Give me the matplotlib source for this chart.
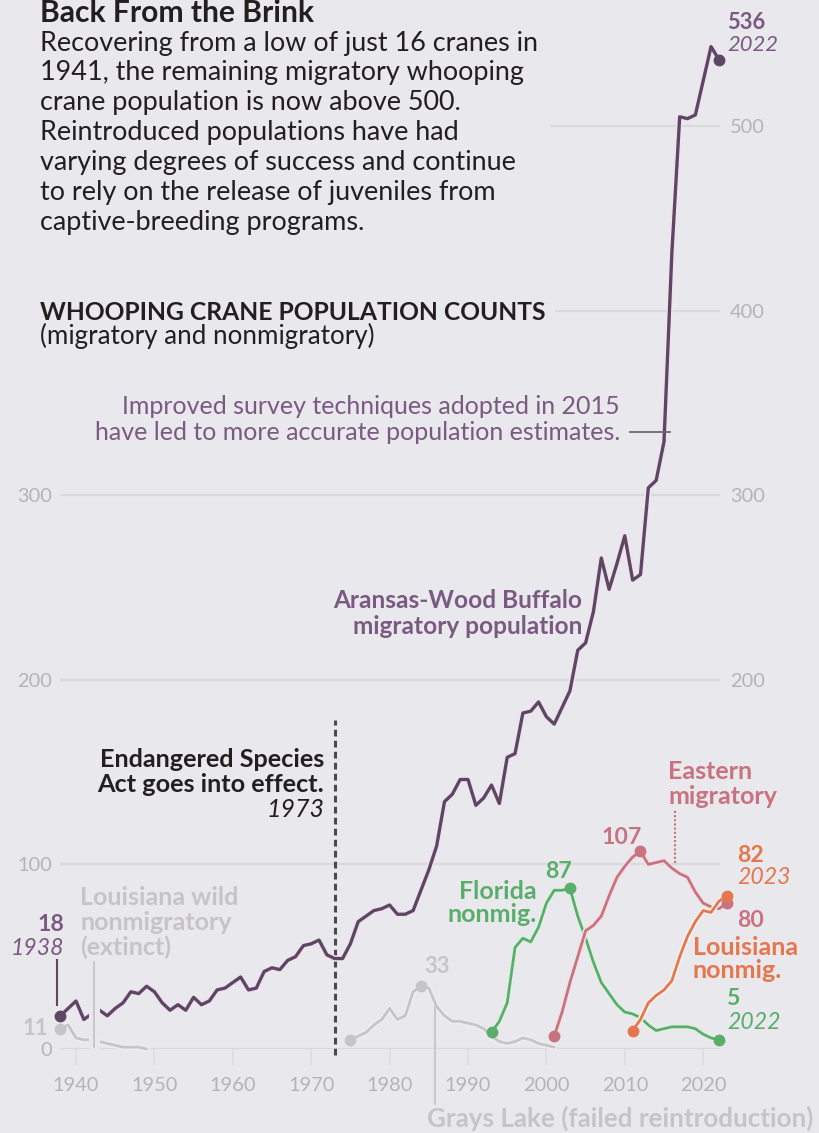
import numpy as np
import matplotlib.pyplot as plt
import matplotlib.patheffects as pe
from matplotlib.patches import Rectangle

plt.rcParams['font.family'] = ['Lato', 'DejaVu Sans']

# --- data ---
# Aransas-Wood Buffalo migratory flock (no count in 2020)
aransas_years = list(range(1938, 2020)) + [2021, 2022]
aransas_counts = [18, 22, 26, 16, 19, 21, 18, 22, 25, 31,
                  30, 34, 31, 25, 21, 24, 21, 28, 24, 26,
                  32, 33, 36, 39, 32, 33, 42, 44, 43, 48,
                  50, 56, 57, 59, 51, 49, 49, 57, 69, 72,
                  75, 76, 78, 73, 73, 75, 86, 97, 110, 134,
                  138, 146, 146, 132, 136, 143, 133, 158, 160, 182,
                  183, 188, 180, 176, 185, 194, 216, 220, 237, 266,
                  249, 263, 278, 254, 257, 304, 308, 329, 431, 505,
                  504, 506, 543, 536]

# Louisiana wild nonmigratory (extinct)
la_wild_years = list(range(1938, 1950))
la_wild_counts = [11, 13, 6, 5, 5, 4, 3, 2, 1, 1, 1, 0]

# Grays Lake (failed reintroduction)
grays_years = list(range(1975, 2002))
grays_counts = [5, 7, 9, 13, 16, 22, 16, 18, 31, 34, 33, 23, 18, 15, 15,
                14, 13, 11, 7, 4, 3, 4, 6, 5, 3, 2, 1]

# Florida nonmigratory
florida_years = list(range(1993, 2023))
florida_counts = [9, 15, 25, 55, 60, 58, 66, 79, 86, 86, 87, 72, 60, 47, 36,
                  30, 24, 20, 19, 17, 13, 10, 11, 12, 12, 12, 11, 8, 6, 5]

# Eastern migratory
eastern_years = list(range(2001, 2024))
eastern_counts = [7, 20, 36, 50, 64, 67, 72, 83, 93, 99, 104, 107, 100, 101,
                  102, 98, 95, 93, 85, 79, 77, 76, 79]

# Louisiana nonmigratory (reintroduced)
la_years = list(range(2011, 2024))
la_counts = [10, 16, 25, 29, 32, 37, 50, 61, 69, 75, 74, 80, 83]

grid_values = [0, 100, 200, 300, 400, 500]
left_ticks = [0, 100, 200, 300]
right_ticks = [200, 300, 400, 500]
x_ticks = [1940, 1950, 1960, 1970, 1980, 1990, 2000, 2010, 2020]

body_lines = ['Recovering from a low of just 16 cranes in',
              '1941, the remaining migratory whooping',
              'crane population is now above 500.',
              'Reintroduced populations have had',
              'varying degrees of success and continue',
              'to rely on the release of juveniles from',
              'captive-breeding programs.']

# --- colours ---
BG = '#e9e8ec'
PURPLE = '#5d4763'
PURPLE_TXT = '#7a5a82'
GREEN = '#5aae6c'
PINK = '#c8737f'
ORANGE = '#e5764d'
LGRAY = '#c6c4c9'
TICKGRAY = '#b5b3b9'
GRIDC = '#d9d8dd'
INK = '#231f20'


def px(p):
    return p * 0.72


W, H = 819, 1133
fig = plt.figure(figsize=(W / 100, H / 100), dpi=100, facecolor=BG)

# axes placed so that 1940 sits at x=76px and 0 at y=1049px
ppy = 7.84     # pixels per year
ppv = 1.846    # pixels per crane
left_px, right_px, top_px, base_px = 60, 720, 15, 1049
ax = fig.add_axes([left_px / W, 1 - base_px / H, (right_px - left_px) / W, (base_px - top_px) / H])
ax.set_facecolor(BG)
ax.set_xlim(1940 + (left_px - 76) / ppy, 1940 + (right_px - 76) / ppy)
ax.set_ylim(0, (base_px - top_px) / ppv)
for s in ax.spines.values():
    s.set_visible(False)

x0, x1 = ax.get_xlim()
ax.hlines(grid_values, x0, x1, color=GRIDC, lw=1.6, zorder=0)

ax.set_yticks(left_ticks)
ax.set_yticklabels([str(v) for v in left_ticks])
ax.tick_params(axis='y', length=0, pad=px(8), labelsize=px(20), labelcolor=TICKGRAY)
ax.set_xticks(x_ticks)
ax.set_xticklabels([str(v) for v in x_ticks])
ax.tick_params(axis='x', length=px(16), width=1.2, color='#dddce1', pad=px(12),
               labelsize=px(20), labelcolor=TICKGRAY)

axr = ax.twinx()
axr.set_ylim(ax.get_ylim())
axr.set_yticks(right_ticks)
axr.set_yticklabels([str(v) for v in right_ticks])
axr.tick_params(axis='y', length=0, pad=px(10), labelsize=px(20), labelcolor=TICKGRAY)
for s in axr.spines.values():
    s.set_visible(False)


def series(xs, ys, color, halo, lw=2.0, z=3):
    ax.plot(xs, ys, color=color, lw=lw, solid_joinstyle='round', solid_capstyle='round',
            clip_on=False, zorder=z,
            path_effects=[pe.Stroke(linewidth=lw + 2.2, foreground=halo), pe.Normal()])


def dot(x, y, color, z=4, ms=7.5):
    ax.plot([x], [y], 'o', color=color, ms=ms, mec=color, clip_on=False, zorder=z)


# Endangered Species Act line
ax.plot([1973, 1973], [-3, 178], color='#4a4a4e', lw=2.2, ls=(0, (2.2, 1.4)),
        clip_on=False, zorder=2)

series(la_wild_years, la_wild_counts, LGRAY, '#eeeef1', lw=2.0, z=2)
series(grays_years, grays_counts, LGRAY, '#eeeef1', lw=2.0, z=2)
series(florida_years, florida_counts, GREEN, '#e3efe5', lw=2.0)
series(eastern_years, eastern_counts, PINK, '#f1e2e6', lw=2.0)
series(la_years, la_counts, ORANGE, '#f6f2f2', lw=2.0, z=3.5)
series(aransas_years, aransas_counts, PURPLE, '#efe3f1', lw=2.4, z=3)

# end / start markers
dot(la_wild_years[0], la_wild_counts[0], LGRAY, z=2.5)
dot(grays_years[0], grays_counts[0], LGRAY, z=2.5)
i = int(np.argmax(grays_counts))
dot(grays_years[i], grays_counts[i], LGRAY, z=2.5)
dot(florida_years[0], florida_counts[0], GREEN)
i = int(np.argmax(florida_counts))
dot(florida_years[i], florida_counts[i], GREEN)
dot(florida_years[-1], florida_counts[-1], GREEN)
dot(eastern_years[0], eastern_counts[0], PINK)
i = int(np.argmax(eastern_counts))
dot(eastern_years[i], eastern_counts[i], PINK)
dot(eastern_years[-1], eastern_counts[-1], PINK)
dot(la_years[0], la_counts[0], ORANGE, z=4.5)
dot(la_years[-1], la_counts[-1], ORANGE, z=4.5)
dot(aransas_years[0], aransas_counts[0], PURPLE, z=5)
dot(aransas_years[-1], aransas_counts[-1], PURPLE, z=5)

# leader lines
halo_bg = [pe.Stroke(linewidth=8, foreground=BG), pe.Normal()]
ax.plot([1942.3, 1942.3], [1, 47], color=LGRAY, lw=1.3, clip_on=False, zorder=3.8,
        path_effects=halo_bg)
ax.plot([1985.8, 1985.8], [-30, 23], color=LGRAY, lw=1.3, clip_on=False, zorder=2.2)
ax.plot([1937.6, 1937.6], [24, 48], color=PURPLE, lw=1.5, clip_on=False, zorder=3)
ax.plot([2016.4, 2016.4], [101, 130], color=PINK, lw=1.5, ls=(0, (1, 1)), clip_on=False, zorder=3)
ax.plot([2010.7, 2015.8], [334, 334], color='#6a6a70', lw=1.3, clip_on=False, zorder=3)


def ftext(x, y, s, **kw):
    kw.setdefault('va', 'baseline')
    return fig.text(x / W, 1 - y / H, s, **kw)


def cover(x, y, w, h):
    # background-coloured patch so gridlines stop behind the text blocks
    fig.patches.append(Rectangle((x / W, 1 - (y + h) / H), w / W, h / H, transform=fig.transFigure,
                                 facecolor=BG, edgecolor='none', zorder=1))


cover(30, 0, 520, 240)
cover(30, 295, 525, 55)

# --- headline block ---
ftext(40, 22, 'Back From the Brink', fontsize=px(30), fontweight='bold', color=INK)
for k, line in enumerate(body_lines):
    ftext(40, 50.5 + 29.9 * k, line, fontsize=px(27), color=INK)
ftext(40, 320, 'WHOOPING CRANE POPULATION COUNTS', fontsize=px(24.6), fontweight='bold', color=INK)
ftext(40, 344, '(migratory and nonmigratory)', fontsize=px(26), color=INK)

ftext(620, 414, 'Improved survey techniques adopted in 2015', fontsize=px(25),
      color=PURPLE_TXT, ha='right')
ftext(620, 440, 'have led to more accurate population estimates.', fontsize=px(25),
      color=PURPLE_TXT, ha='right')
ftext(582, 608, 'Aransas-Wood Buffalo', fontsize=px(24.4), fontweight='bold', color=PURPLE_TXT, ha='right')
ftext(582, 634, 'migratory population', fontsize=px(24.4), fontweight='bold', color=PURPLE_TXT, ha='right')

ftext(324, 767, 'Endangered Species', fontsize=px(25.3), fontweight='bold', color=INK, ha='right')
ftext(324, 792, 'Act goes into effect.', fontsize=px(25.3), fontweight='bold', color=INK, ha='right')
ftext(324, 817, '1973', fontsize=px(25), style='italic', color=INK, ha='right')

# series labels
LAB = px(25)
NUM = px(23)
ftext(80, 905, 'Louisiana wild', fontsize=LAB, fontweight='bold', color=LGRAY)
ftext(80, 930, 'nonmigratory', fontsize=LAB, fontweight='bold', color=LGRAY)
ftext(80, 955, '(extinct)', fontsize=LAB, fontweight='bold', color=LGRAY)
ftext(64, 931, '18', fontsize=NUM, fontweight='bold', color=PURPLE_TXT, ha='right')
ftext(64, 955, '1938', fontsize=NUM, style='italic', color=PURPLE_TXT, ha='right')
ftext(48, 1035, '11', fontsize=px(22), fontweight='bold', color=LGRAY, ha='right')
ftext(437, 973, '33', fontsize=px(22), fontweight='bold', color=LGRAY, ha='center')
ftext(427, 1127, 'Grays Lake (failed reintroduction)', fontsize=px(26), fontweight='bold', color=LGRAY)

ftext(537, 899, 'Florida', fontsize=LAB, fontweight='bold', color=GREEN, ha='right')
ftext(537, 922, 'nonmig.', fontsize=LAB, fontweight='bold', color=GREEN, ha='right')
ftext(559, 878, '87', fontsize=NUM, fontweight='bold', color=GREEN, ha='center')
ftext(727, 1005, '5', fontsize=NUM, fontweight='bold', color=GREEN)
ftext(727, 1029, '2022', fontsize=NUM, style='italic', color=GREEN)

ftext(622, 844, '107', fontsize=NUM, fontweight='bold', color=PINK, ha='center')
ftext(668, 779, 'Eastern', fontsize=LAB, fontweight='bold', color=PINK)
ftext(668, 804, 'migratory', fontsize=LAB, fontweight='bold', color=PINK)
ftext(737, 927, '80', fontsize=NUM, fontweight='bold', color=PINK)

ftext(737, 862, '82', fontsize=NUM, fontweight='bold', color=ORANGE)
ftext(737, 884, '2023', fontsize=NUM, style='italic', color=ORANGE)
ftext(693, 955, 'Louisiana', fontsize=LAB, fontweight='bold', color=ORANGE)
ftext(693, 978, 'nonmig.', fontsize=LAB, fontweight='bold', color=ORANGE)

ftext(727, 29, '536', fontsize=px(22), fontweight='bold', color=PURPLE_TXT)
ftext(727, 51, '2022', fontsize=px(22), style='italic', color=PURPLE_TXT)

fig.savefig('out.png', dpi=100, facecolor=BG)
